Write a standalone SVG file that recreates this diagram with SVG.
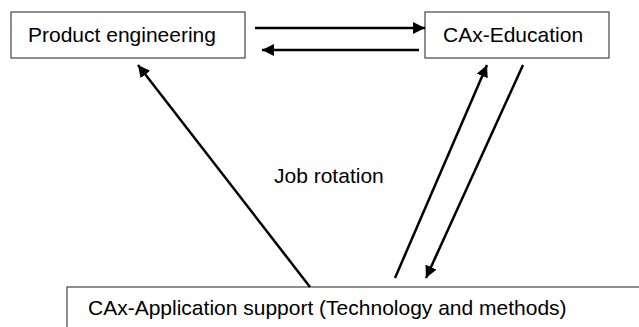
<svg xmlns="http://www.w3.org/2000/svg" width="639" height="327" viewBox="0 0 639 327">
<style>
.box{fill:#fff;stroke:#444;stroke-width:1.2}
.lbl{font-family:"Liberation Sans",Arial,sans-serif;font-size:21px;fill:#000}
.con{stroke:#000;stroke-width:2.5;fill:none;marker-end:url(#ah)}
</style>
<defs>
<marker id="ah" viewBox="0 0 12 12" refX="12" refY="6" markerWidth="12" markerHeight="12" markerUnits="userSpaceOnUse" orient="auto">
<path d="M0,0 L12,6 L0,12 z" fill="#000"/>
</marker>
</defs>
<rect width="639" height="327" fill="#fff"/>
<g id="product-engineering">
<rect class="box" x="11" y="12" width="234" height="46"/>
<text class="lbl" x="28" y="42">Product engineering</text>
</g>
<g id="cax-education">
<rect class="box" x="425" y="12" width="184" height="46"/>
<text class="lbl" x="443" y="42">CAx-Education</text>
</g>
<g id="cax-application-support">
<rect class="box" x="67" y="287" width="600" height="60"/>
<text class="lbl" x="88" y="315">CAx-Application support (Technology and methods)</text>
</g>
<g id="job-rotation">
<text class="lbl" x="274" y="183">Job rotation</text>
</g>
<g id="connectors">
<line class="con" x1="255" y1="28" x2="425" y2="28"/>
<line class="con" x1="419" y1="50" x2="262" y2="50"/>
<line class="con" x1="310" y1="287" x2="138" y2="65"/>
<line class="con" x1="395" y1="278" x2="487" y2="65"/>
<line class="con" x1="523" y1="65" x2="426" y2="278"/>
</g>
</svg>
